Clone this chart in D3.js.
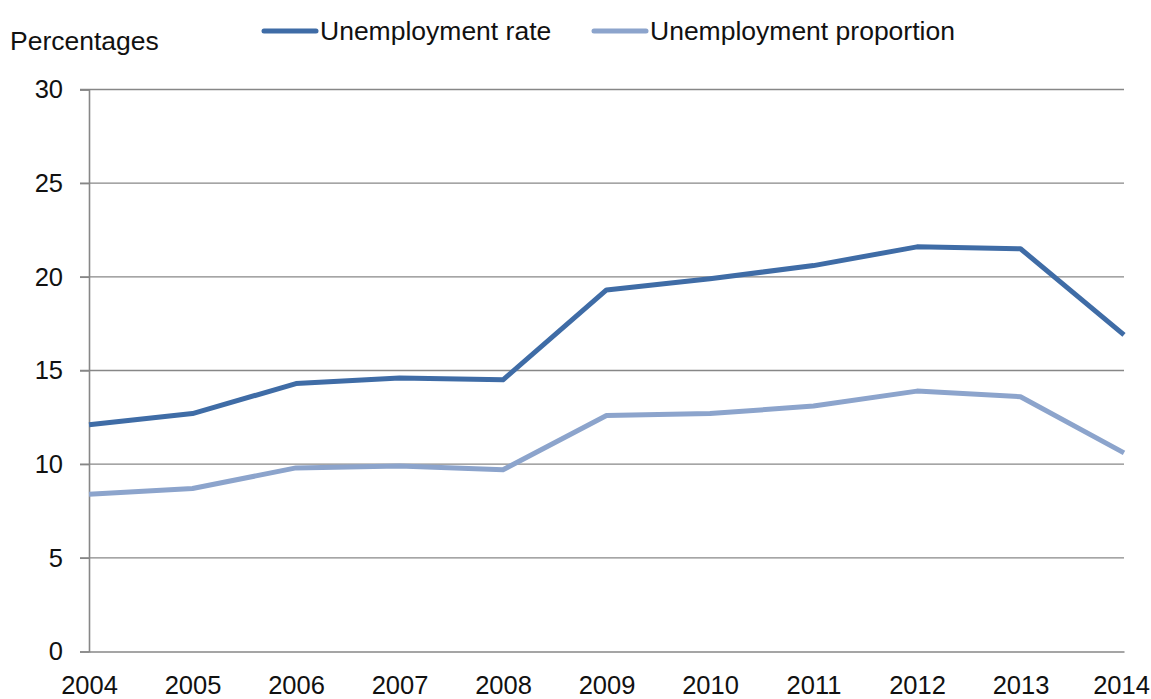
<!DOCTYPE html>
<html>
<head>
<meta charset="utf-8">
<script src="https://cdn.jsdelivr.net/npm/d3@7"></script>
<style>
  html, body { margin: 0; padding: 0; background: #fff; }
  svg { display: block; font-family: "Liberation Sans", Arial, sans-serif; }
</style>
</head>
<body>
<svg id="chart" width="1151" height="699"></svg>
<script>
// Years on the x axis
const years = [2004, 2005, 2006, 2007, 2008, 2009, 2010, 2011, 2012, 2013, 2014];
// Unemployment rate (%)
const unemploymentRate = [12.1, 12.7, 14.3, 14.6, 14.5, 19.3, 19.9, 20.6, 21.6, 21.5, 16.9];
// Unemployment proportion (%)
const unemploymentProportion = [8.4, 8.7, 9.8, 9.9, 9.7, 12.6, 12.7, 13.1, 13.9, 13.6, 10.6];
// Y axis ticks
const yTicks = [0, 5, 10, 15, 20, 25, 30];

const series = [
  { name: "Unemployment rate", values: unemploymentRate, color: "#3f6ca6" },
  { name: "Unemployment proportion", values: unemploymentProportion, color: "#8ca4cc" }
];

const svg = d3.select("#chart");
const plot = { left: 89, right: 1124, top: 89.5, bottom: 651.5 };

const x = d3.scaleLinear().domain([years[0], years[years.length - 1]]).range([plot.left, plot.right]);
const y = d3.scaleLinear().domain([0, 30]).range([plot.bottom, plot.top]);

const gridColor = "#878787";

// Horizontal gridlines
svg.append("g")
  .selectAll("line")
  .data(yTicks.filter(d => d > 0))
  .join("line")
  .attr("x1", plot.left - 9).attr("x2", plot.right)
  .attr("y1", d => y(d)).attr("y2", d => y(d))
  .attr("stroke", gridColor).attr("stroke-width", 1.4);

// Y axis
const yAxis = svg.append("g")
  .attr("transform", `translate(${plot.left},0)`)
  .call(d3.axisLeft(y).tickValues(yTicks).tickSize(9).tickPadding(17));
yAxis.select(".domain").attr("stroke", gridColor).attr("stroke-width", 1.6);
yAxis.selectAll(".tick line").attr("stroke", gridColor).attr("stroke-width", 1.4);
yAxis.selectAll(".tick text")
  .attr("fill", "#111").attr("font-size", 25.5)
  .attr("font-family", "'Liberation Sans', Arial, sans-serif");

// X axis
const xAxis = svg.append("g")
  .attr("transform", `translate(0,${plot.bottom})`)
  .call(d3.axisBottom(x).tickValues(years).tickFormat(d3.format("d")).tickSize(0).tickPadding(24));
xAxis.select(".domain").attr("stroke", gridColor).attr("stroke-width", 1.6);
xAxis.selectAll(".tick text")
  .attr("fill", "#111").attr("font-size", 25.5)
  .attr("font-family", "'Liberation Sans', Arial, sans-serif")
  .attr("dx", (d, i) => i === years.length - 1 ? -3 : 0);

// Series lines
const line = d3.line()
  .x((d, i) => x(years[i]))
  .y(d => y(d));

svg.append("g")
  .selectAll("path")
  .data(series)
  .join("path")
  .attr("d", d => line(d.values))
  .attr("fill", "none")
  .attr("stroke", d => d.color)
  .attr("stroke-width", 5)
  .attr("stroke-linejoin", "round");

// Axis title
svg.append("text")
  .attr("x", 10).attr("y", 50)
  .attr("font-size", 26.5).attr("fill", "#111")
  .text("Percentages");

// Legend
const legendX = [264, 594];
const legend = svg.append("g")
  .selectAll("g")
  .data(series)
  .join("g")
  .attr("transform", (d, i) => `translate(${legendX[i]},31)`);
legend.append("line")
  .attr("x1", 0).attr("x2", 52).attr("y1", 0).attr("y2", 0)
  .attr("stroke", d => d.color).attr("stroke-width", 5)
  .attr("stroke-linecap", "round");
legend.append("text")
  .attr("x", 56).attr("y", 9)
  .attr("font-size", 26.5).attr("fill", "#111")
  .text(d => d.name);
</script>
</body>
</html>
